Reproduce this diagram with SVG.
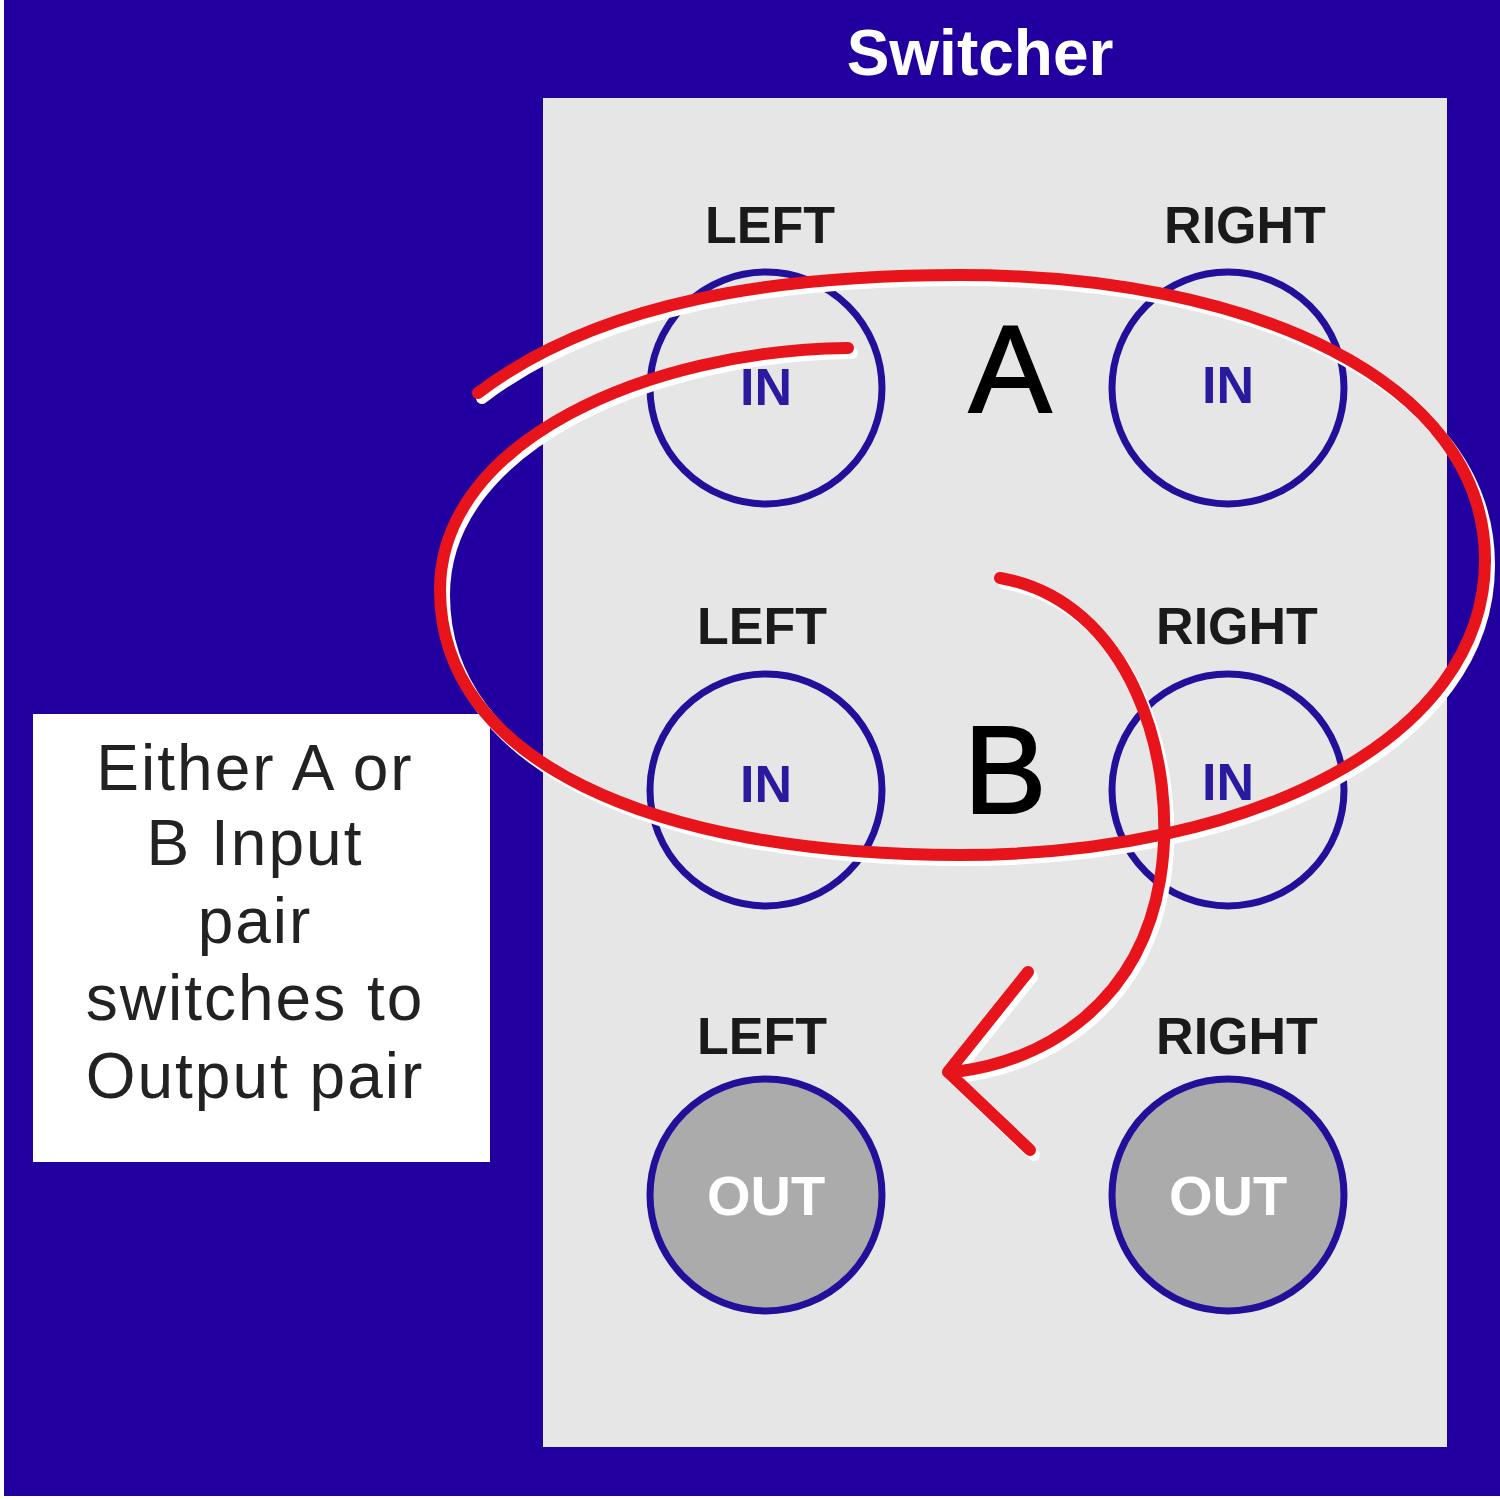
<svg xmlns="http://www.w3.org/2000/svg" width="1500" height="1500" viewBox="0 0 1500 1500">
<style>
.lbl{font-family:"Liberation Sans",Arial,sans-serif;font-weight:bold;font-size:52px;fill:#1a1a1a;text-anchor:middle}
.in{font-family:"Liberation Sans",Arial,sans-serif;font-weight:bold;font-size:52px;fill:#2a1aa0;text-anchor:middle}
.out{font-family:"Liberation Sans",Arial,sans-serif;font-weight:bold;font-size:56px;fill:#ffffff;text-anchor:middle}
.jack{fill:none;stroke:#22109a;stroke-width:7}
.jo{fill:#ababab;stroke:#22109a;stroke-width:7}
.big{font-family:"Liberation Sans",Arial,sans-serif;font-size:124px;fill:#000;text-anchor:middle;stroke:#000;stroke-width:2}
.red{fill:none;stroke:#e8141c;stroke-width:12;stroke-linecap:round}
.sh{fill:none;stroke:#ffffff;stroke-width:12;stroke-linecap:round}
</style>
<rect width="1500" height="1500" fill="#ffffff"/>
<rect x="4" y="0" width="1496" height="1496" fill="#2200a0"/>
<text x="980" y="75" font-family="Liberation Sans,Arial,sans-serif" font-weight="bold" font-size="64" fill="#ffffff" text-anchor="middle">Switcher</text>
<rect x="543" y="98" width="904" height="1349" fill="#e6e6e6"/>
<g id="box"><rect x="33" y="714" width="457" height="448" fill="#ffffff"/>
<g font-family="Liberation Sans,Arial,sans-serif" font-size="64" fill="#222" text-anchor="middle" letter-spacing="2">
<text x="255" y="790">Either A or</text><text x="255" y="865">B Input</text><text x="255" y="943">pair</text><text x="255" y="1020">switches to</text><text x="255" y="1098">Output pair</text></g></g>
<g id="aL"><text class="lbl" x="770" y="243">LEFT</text><circle class="jack" cx="766" cy="388" r="116"/><text class="in" x="766" y="405">IN</text></g>
<g id="aR"><text class="lbl" x="1245" y="243">RIGHT</text><circle class="jack" cx="1228" cy="388" r="116"/><text class="in" x="1228" y="403">IN</text></g>
<g id="bL"><text class="lbl" x="762" y="644">LEFT</text><circle class="jack" cx="766" cy="790" r="116"/><text class="in" x="766" y="802">IN</text></g>
<g id="bR"><text class="lbl" x="1237" y="644">RIGHT</text><circle class="jack" cx="1228" cy="790" r="116"/><text class="in" x="1228" y="800">IN</text></g>
<g id="oL"><text class="lbl" x="762" y="1054">LEFT</text><circle class="jo" cx="766" cy="1195" r="116"/><text class="out" x="766" y="1215">OUT</text></g>
<g id="oR"><text class="lbl" x="1237" y="1054">RIGHT</text><circle class="jo" cx="1228" cy="1195" r="116"/><text class="out" x="1228" y="1215">OUT</text></g>
<text class="big" x="1010" y="412">A</text>
<text class="big" x="1005" y="813">B</text>
<g id="connectors">
<g transform="translate(4,5)">
<path class="sh" d="M478,393 C600,300 780,275 960,275 C1250,275 1485,380 1485,560 C1485,740 1250,855 960,855 C650,855 440,760 440,590 C440,440 650,350 848,348"/>
<path class="sh" d="M1000,578 C1130,600 1180,760 1160,880 C1140,1000 1050,1060 955,1072 M948,1072 L1028,972 M948,1072 L1030,1150"/>
</g>
<path class="red" d="M478,393 C600,300 780,275 960,275 C1250,275 1485,380 1485,560 C1485,740 1250,855 960,855 C650,855 440,760 440,590 C440,440 650,350 848,348"/>
<path class="red" d="M1000,578 C1130,600 1180,760 1160,880 C1140,1000 1050,1060 955,1072 M948,1072 L1028,972 M948,1072 L1030,1150"/>
</g>
</svg>
